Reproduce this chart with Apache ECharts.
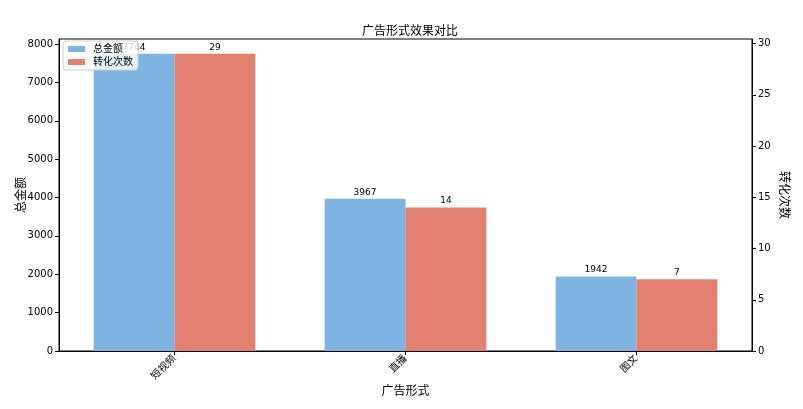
<!DOCTYPE html>
<html>
<head>
<meta charset="utf-8">
<script src="https://cdn.jsdelivr.net/npm/echarts@6/dist/echarts.min.js"></script>
<style>html,body{margin:0;padding:0;background:#fff;}#c{width:803px;height:409px;}</style>
</head>
<body>
<div id="c"></div>
<script>
var categories = ['短视频', '直播', '图文'];
var amountValues = [7744, 3967, 1942];
var conversionValues = [29, 14, 7];
var leftTicks = [0, 1000, 2000, 3000, 4000, 5000, 6000, 7000, 8000];
var rightTicks = [0, 5, 10, 15, 20, 25, 30];

var FONT = 'DejaVu Sans, Noto Sans CJK SC, sans-serif';
var chart = echarts.init(document.getElementById('c'));
function plain(v) { return String(v); }
chart.setOption({
  animation: false,
  backgroundColor: '#fff',
  title: {
    text: '广告形式效果对比', left: 405, top: 21, textAlign: 'center',
    textStyle: { fontSize: 12, fontWeight: 'normal', color: '#000', fontFamily: FONT }
  },
  grid: { left: 59, right: 51, top: 39, bottom: 58, show: true, borderColor: '#000', borderWidth: 1,
          backgroundColor: 'transparent', containLabel: false, outerBoundsMode: 'none' },
  legend: {
    orient: 'vertical', left: 63, top: 41, z: 20,
    itemWidth: 17, itemHeight: 6, itemGap: 3,
    icon: 'rect',
    backgroundColor: 'rgba(255,255,255,0.8)', borderColor: '#d0d0d0', borderWidth: 1, borderRadius: 3,
    padding: [3, 5, 3, 5],
    textStyle: { fontSize: 10, color: '#000', fontFamily: FONT, padding: [0, 0, 0, 3] },
    data: ['总金额', '转化次数']
  },
  xAxis: {
    type: 'category', data: categories,
    name: '广告形式', nameLocation: 'middle', nameGap: 35, nameMoveOverlap: false,
    nameTextStyle: { color: '#000', fontSize: 12, fontFamily: FONT },
    axisLine: { show: true, lineStyle: { color: '#000', width: 1 } },
    axisTick: { show: true, alignWithLabel: true, length: 4, lineStyle: { color: '#000' } },
    splitLine: { show: false },
    axisLabel: { color: '#000', fontSize: 10, fontFamily: FONT, rotate: 45, margin: 6 }
  },
  yAxis: [
    {
      type: 'value', min: 0, max: 8131.2, position: 'left',
      name: '总金额', nameLocation: 'middle', nameGap: 31, nameMoveOverlap: false,
      nameTextStyle: { color: '#000', fontSize: 12, fontFamily: FONT },
      axisLine: { show: true, lineStyle: { color: '#000', width: 1 } },
      splitLine: { show: false },
      axisTick: { show: true, length: 4, lineStyle: { color: '#000' }, customValues: leftTicks },
      axisLabel: { color: '#000', fontSize: 10, fontFamily: FONT, margin: 6, customValues: leftTicks, formatter: plain }
    },
    {
      type: 'value', min: 0, max: 30.45, position: 'right',
      name: '转化次数', nameLocation: 'middle', nameGap: 25, nameRotate: -90, nameMoveOverlap: false,
      nameTextStyle: { color: '#000', fontSize: 12, fontFamily: FONT },
      axisLine: { show: true, lineStyle: { color: '#000', width: 1 } },
      splitLine: { show: false },
      axisTick: { show: true, length: 4, lineStyle: { color: '#000' }, customValues: rightTicks },
      axisLabel: { color: '#000', fontSize: 10, fontFamily: FONT, margin: 6, customValues: rightTicks, formatter: plain }
    }
  ],
  series: [
    {
      name: '总金额', type: 'bar', yAxisIndex: 0, data: amountValues,
      barWidth: '35%', barGap: '0%',
      itemStyle: { color: '#7FB3E2' },
      label: { show: true, position: 'top', distance: 2, fontSize: 9, color: '#000', fontFamily: FONT }
    },
    {
      name: '转化次数', type: 'bar', yAxisIndex: 1, data: conversionValues,
      barWidth: '35%', barGap: '0%',
      itemStyle: { color: '#E2806F' },
      label: { show: true, position: 'top', distance: 2, fontSize: 9, color: '#000', fontFamily: FONT }
    }
  ]
});
</script>
</body>
</html>
